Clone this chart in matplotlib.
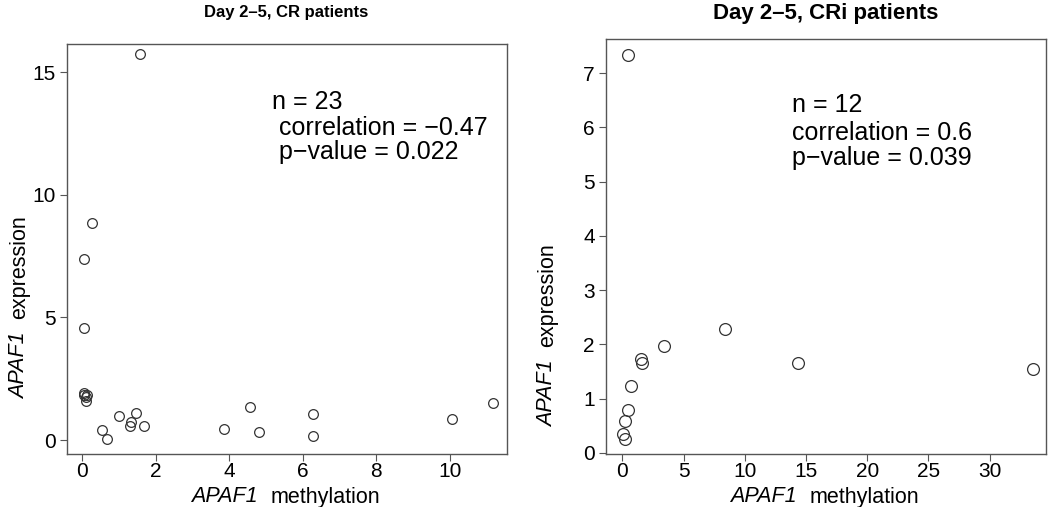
import matplotlib
matplotlib.use("Agg")
import matplotlib.pyplot as plt

plt.rcParams['font.family'] = ['Liberation Sans', 'DejaVu Sans']

# Day 2-5, CR patients
cr_meth = [1.58, 0.28, 0.04, 0.06, 0.04, 0.14, 0.11, 0.06, 0.10, 1.0, 1.48, 1.32,
           1.31, 1.69, 0.54, 0.67, 3.87, 4.56, 4.8, 6.29, 6.29, 10.07, 11.18]
cr_expr = [15.76, 8.84, 7.4, 4.56, 1.9, 1.84, 1.6, 1.85, 1.75, 0.98, 1.09, 0.75,
           0.57, 0.57, 0.41, 0.05, 0.44, 1.35, 0.31, 1.07, 0.16, 0.84, 1.5]
cr_stats = ["n = 23", " correlation = \u22120.47", " p\u2212value = 0.022"]

# Day 2-5, CRi patients
cri_meth = [0.49, 8.41, 14.37, 33.5, 3.4, 1.53, 1.61, 0.71, 0.47, 0.22, 0.05, 0.25]
cri_expr = [7.34, 2.28, 1.65, 1.55, 1.97, 1.73, 1.66, 1.23, 0.8, 0.59, 0.35, 0.26]
cri_stats = ["n = 12", "correlation = 0.6", "p\u2212value = 0.039"]

W, H = 1050, 507
fig = plt.figure(figsize=(10.5, 5.07), dpi=100)

def px(x, y):
    return x / W, 1 - y / H

def make_panel(rect, xs, ys, xlim, ylim, xticks, yticks, ms, fs_tick):
    ax = fig.add_axes(rect)
    ax.plot(xs, ys, 'o', mfc='none', mec='#333333', ms=ms, mew=0.9)
    ax.set_xlim(xlim)
    ax.set_ylim(ylim)
    ax.set_xticks(xticks)
    ax.set_yticks(yticks)
    ax.tick_params(direction='out', length=5, width=0.8, color='#555555',
                   labelsize=fs_tick, pad=1)
    ax.tick_params(axis='y', pad=3)
    for s in ax.spines.values():
        s.set_color('#555555')
        s.set_linewidth(1.0)
    return ax

ax1 = make_panel([67 / W, 53 / H, 440 / W, 410 / H], cr_meth, cr_expr,
                 (-0.41, 11.56), (-0.57, 16.16), [0, 2, 4, 6, 8, 10],
                 [0, 5, 10, 15], 7, 15)
ax2 = make_panel([606 / W, 53 / H, 440 / W, 415 / H], cri_meth, cri_expr,
                 (-1.33, 34.6), (-0.02, 7.63), [0, 5, 10, 15, 20, 25, 30],
                 list(range(8)), 8.5, 15)

LAB = 15.5
# axis labels: italic gene name + plain word
for cx, ylx, cy in [(287, 20, 307), (826, 548, 335)]:
    fig.text(*px(cx - 29, 497), "APAF1", style='italic', fontsize=LAB,
             ha='right', va='center')
    fig.text(*px(cx - 16, 497), "methylation", fontsize=LAB,
             ha='left', va='center')
    fig.text(*px(ylx, cy + 25), "APAF1", style='italic', fontsize=LAB,
             ha='center', va='top', rotation=90)
    fig.text(*px(ylx, cy + 12), "expression", fontsize=LAB,
             ha='center', va='bottom', rotation=90)

# titles
fig.text(*px(286, 13), "Day 2\u20135, CR patients", fontsize=12,
         fontweight='bold', ha='center', va='center')
fig.text(*px(826, 13), "Day 2\u20135, CRi patients", fontsize=16,
         fontweight='bold', ha='center', va='center')

# stats annotations
for (x0, ys), lines, fs in [((272, [102, 128, 152]), cr_stats, 18),
                            ((792, [105, 133, 158]), cri_stats, 18)]:
    for y, t in zip(ys, lines):
        fig.text(*px(x0, y), t, fontsize=fs, ha='left', va='center')

fig.savefig("out.png", dpi=100)
